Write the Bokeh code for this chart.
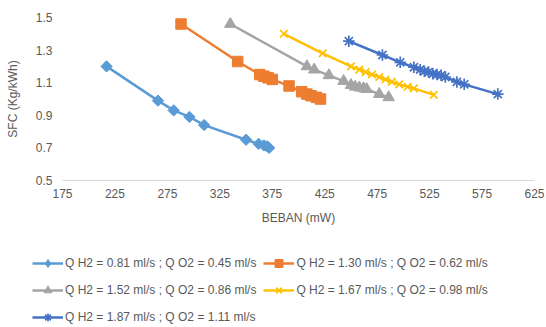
import numpy as np
from bokeh.plotting import figure
from bokeh.layouts import column
from bokeh.models import Legend, LegendItem, FixedTicker, NumeralTickFormatter
from bokeh.embed import file_html
from bokeh.resources import INLINE

labels = [
    "Q H2 = 0.81 ml/s ; Q O2 = 0.45 ml/s",
    "Q H2 = 1.30 ml/s ; Q O2 = 0.62 ml/s",
    "Q H2 = 1.52 ml/s ; Q O2 = 0.86 ml/s",
    "Q H2 = 1.67 ml/s ; Q O2 = 0.98 ml/s",
    "Q H2 = 1.87 ml/s ; Q O2 = 1.11 ml/s",
]
x1 = [217, 266, 281, 296, 310, 350, 362, 367, 370, 372]
y1 = [1.20, 0.99, 0.93, 0.89, 0.84, 0.75, 0.725, 0.715, 0.71, 0.70]
x2 = [288, 342, 363, 367, 371, 375, 391, 403, 408, 412, 417, 421]
y2 = [1.46, 1.23, 1.15, 1.14, 1.13, 1.12, 1.08, 1.045, 1.03, 1.02, 1.01, 1.00]
x3 = [335, 408, 415, 429, 443, 450, 454, 458, 462, 465, 477, 486]
y3 = [1.46, 1.20, 1.18, 1.145, 1.11, 1.085, 1.075, 1.07, 1.065, 1.06, 1.03, 1.01]
x4 = [386, 423, 450, 458, 464, 470, 477, 483, 489, 496, 504, 510, 529]
y4 = [1.40, 1.28, 1.20, 1.18, 1.165, 1.15, 1.135, 1.12, 1.105, 1.09, 1.075, 1.065, 1.025]
x5 = [448, 480, 497, 510, 516, 520, 524, 528, 532, 536, 540, 551, 558, 590]
y5 = [1.355, 1.27, 1.225, 1.195, 1.18, 1.17, 1.165, 1.155, 1.15, 1.145, 1.135, 1.105, 1.09, 1.03]
x_ticks = [175, 225, 275, 325, 375, 425, 475, 525, 575, 625]
y_ticks = [0.5, 0.7, 0.9, 1.1, 1.3, 1.5]

colors = ["#5B9BD5", "#ED7D31", "#A5A5A5", "#FFC000", "#4472C4"]
series = [(x1, y1), (x2, y2), (x3, y3), (x4, y4), (x5, y5)]

FONT = "Liberation Sans"
TXT = "#595959"


def draw_series(fig, for_legend=False):
    out = []
    for i, ((xs, ys), c) in enumerate(zip(series, colors)):
        r_line = fig.line(xs, ys, line_color=c, line_width=2.5)
        if i == 0:
            if for_legend:
                r_m = fig.scatter(xs, ys, marker="diamond", size=10, fill_color=c, line_color=c)
            else:
                r_m = fig.scatter(xs, ys, marker="square", size=8, angle=np.pi / 4,
                                  fill_color=c, line_color=c)
        elif i == 1:
            r_m = fig.scatter(xs, ys, marker="square", size=10.5, fill_color=c, line_color=c)
        elif i == 2:
            r_m = fig.scatter(xs, ys, marker="triangle", size=11.5, fill_color=c, line_color=c)
        elif i == 3:
            r_m = fig.scatter(xs, ys, marker="x", size=10.5, line_color=c, line_width=1.7)
        else:
            r_m = fig.scatter(xs, ys, marker="asterisk", size=11.5, line_color=c, line_width=1.7)
        out.append((r_line, r_m))
    return out


p = figure(width=546, height=240, output_backend="svg", toolbar_location=None,
           x_range=(175, 625), y_range=(0.5, 1.5),
           min_border_left=62, min_border_right=12, min_border_top=17,
           min_border_bottom=60)
p.outline_line_color = None
p.grid.grid_line_color = None
draw_series(p)

p.xaxis.ticker = FixedTicker(ticks=x_ticks)
p.yaxis.ticker = FixedTicker(ticks=y_ticks)
p.yaxis.formatter = NumeralTickFormatter(format="0.0")

for ax in [p.xaxis[0], p.yaxis[0]]:
    ax.major_tick_line_color = None
    ax.minor_tick_line_color = None
    ax.major_tick_out = 0
    ax.major_tick_in = 0
    ax.minor_tick_out = 0
    ax.major_label_text_font = FONT
    ax.major_label_text_font_size = "12px"
    ax.major_label_text_color = TXT
    ax.axis_label_text_font = FONT
    ax.axis_label_text_font_size = "12px"
    ax.axis_label_text_color = TXT
    ax.axis_label_text_font_style = "normal"

p.xaxis.axis_label = "BEBAN (mW)"
p.yaxis.axis_label = "SFC (Kg/kWh)"
p.xaxis.axis_line_color = "#D9D9D9"
p.xaxis.axis_line_width = 1
p.yaxis.axis_line_color = None
p.xaxis.major_label_standoff = 8
p.xaxis.axis_label_standoff = 10
p.yaxis.major_label_standoff = 10
p.yaxis.axis_label_standoff = 13

# Legend panel: same series drawn outside its visible range, legend only
pl = figure(width=546, height=87, output_backend="svg", toolbar_location=None,
            x_range=(0, 1), y_range=(0, 1),
            x_axis_location=None, y_axis_location=None,
            min_border_left=0, min_border_right=0, min_border_top=0, min_border_bottom=0)
if "frame_align" in pl.properties():
    pl.frame_align = False
    p.frame_align = False
pl.outline_line_color = None
pl.grid.grid_line_color = None
rends = draw_series(pl, for_legend=True)
items = [LegendItem(label=labels[i], renderers=list(rends[i])) for i in range(5)]

legend = Legend(items=items, location=(32, 0), orientation="horizontal", ncols=2,
                glyph_width=31, glyph_height=20, label_standoff=2, spacing=7,
                padding=0, margin=0, border_line_color=None,
                background_fill_alpha=0,
                label_text_font=FONT, label_text_font_size="12px",
                label_text_color=TXT)
pl.add_layout(legend, "center")

layout = column(p, pl, spacing=0)
open("out.html", "w").write(file_html(layout, INLINE))
